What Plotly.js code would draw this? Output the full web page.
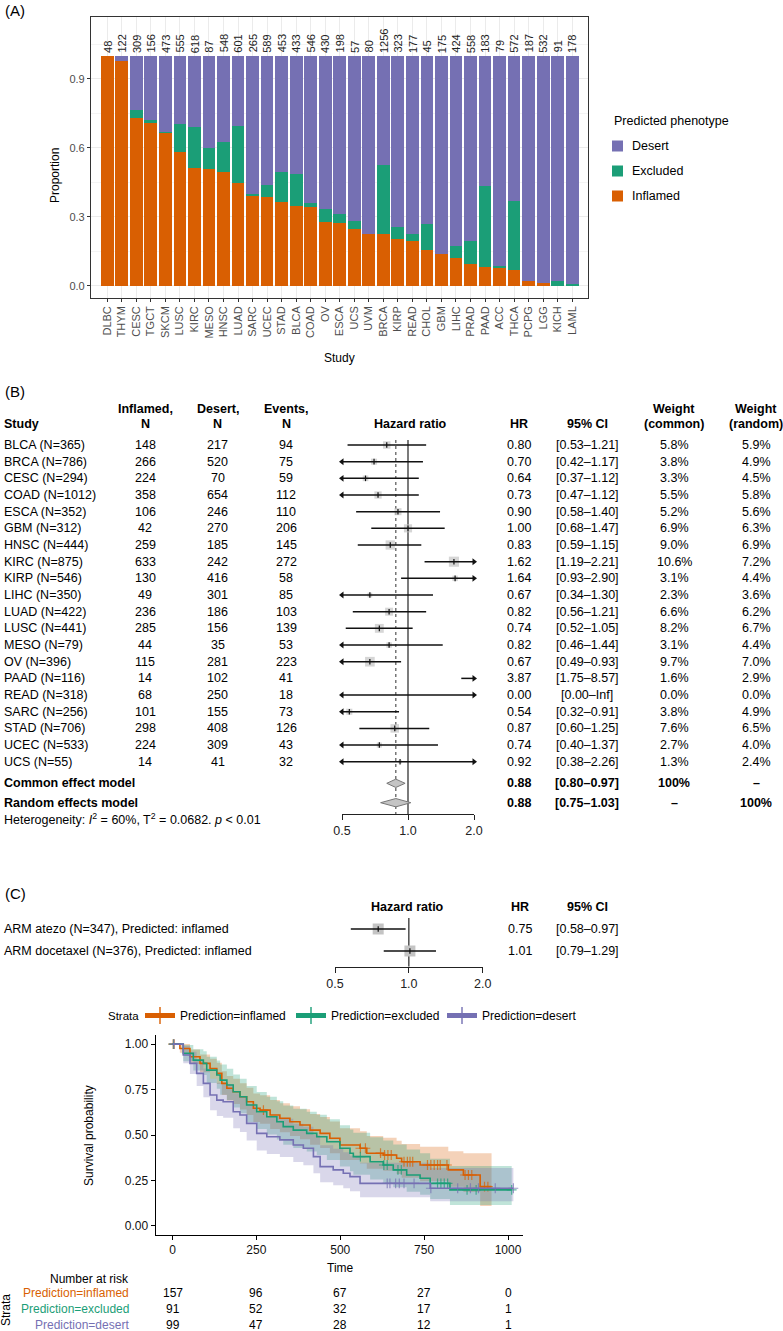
<!DOCTYPE html>
<html><head><meta charset="utf-8">
<script src="https://cdn.plot.ly/plotly-3.0.1.min.js"></script>
<style>html,body{margin:0;padding:0;background:#fff}#chart{width:783px;height:1331px}</style>
</head><body><div id="chart"></div>
<script>
// ---------- Panel A: predicted phenotype proportions ----------
const studiesA = ['DLBC','THYM','CESC','TGCT','SKCM','LUSC','KIRC','MESO','HNSC','LUAD','SARC','UCEC','STAD','BLCA','COAD','OV','ESCA','UCS','UVM','BRCA','KIRP','READ','CHOL','GBM','LIHC','PRAD','PAAD','ACC','THCA','PCPG','LGG','KICH','LAML'];
const countsA = [48,122,309,156,473,555,618,87,548,601,265,589,453,433,546,430,198,57,80,1256,323,177,45,175,424,558,183,79,572,187,532,91,178];
const inflamedA = [1.000,0.975,0.729,0.706,0.662,0.583,0.513,0.506,0.494,0.448,0.388,0.384,0.362,0.346,0.341,0.278,0.271,0.245,0.226,0.223,0.204,0.193,0.157,0.138,0.119,0.094,0.083,0.077,0.068,0.022,0.014,0.000,0.000];
const excludedA = [0.000,0.000,0.035,0.013,0.008,0.120,0.178,0.091,0.131,0.248,0.013,0.055,0.132,0.141,0.017,0.054,0.043,0.035,0.000,0.302,0.053,0.033,0.110,0.000,0.055,0.099,0.349,0.011,0.302,0.000,0.000,0.022,0.009];
const desertA = [0.000,0.025,0.236,0.281,0.330,0.297,0.309,0.403,0.375,0.304,0.599,0.561,0.506,0.513,0.642,0.668,0.686,0.720,0.774,0.475,0.743,0.774,0.733,0.862,0.826,0.807,0.568,0.912,0.630,0.978,0.986,0.978,0.991];
const phenotypeNames = ['Desert','Excluded','Inflamed'];

// ---------- Panel B: meta-analysis ----------
const studiesB = ['BLCA','BRCA','CESC','COAD','ESCA','GBM','HNSC','KIRC','KIRP','LIHC','LUAD','LUSC','MESO','OV','PAAD','READ','SARC','STAD','UCEC','UCS'];
const totalB = [365,786,294,1012,352,312,444,875,546,350,422,441,79,396,116,318,256,706,533,55];
const inflamedB = [148,266,224,358,106,42,259,633,130,49,236,285,44,115,14,68,101,298,224,14];
const desertB = [217,520,70,654,246,270,185,242,416,301,186,156,35,281,102,250,155,408,309,41];
const eventsB = [94,75,59,112,110,206,145,272,58,85,103,139,53,223,41,18,73,126,43,32];
const hrB = [0.80,0.70,0.64,0.73,0.90,1.00,0.83,1.62,1.64,0.67,0.82,0.74,0.82,0.67,3.87,0.00,0.54,0.87,0.74,0.92];
const lowerB = [0.53,0.42,0.37,0.47,0.58,0.68,0.59,1.19,0.93,0.34,0.56,0.52,0.46,0.49,1.75,0.00,0.32,0.60,0.40,0.38];
const upperB = [1.21,1.17,1.12,1.12,1.40,1.47,1.15,2.21,2.90,1.30,1.21,1.05,1.44,0.93,8.57,Infinity,0.91,1.25,1.37,2.26];
const wCommonB = [5.8,3.8,3.3,5.5,5.2,6.9,9.0,10.6,3.1,2.3,6.6,8.2,3.1,9.7,1.6,0.0,3.8,7.6,2.7,1.3];
const wRandomB = [5.9,4.9,4.5,5.8,5.6,6.3,6.9,7.2,4.4,3.6,6.2,6.7,4.4,7.0,2.9,0.0,4.9,6.5,4.0,2.4];
const pooledLabels = ['Common effect model','Random effects model'];
const pooledHR = [0.88,0.88];
const pooledLower = [0.80,0.75];
const pooledUpper = [0.97,1.03];
const pooledWCommon = ['100%','–'];
const pooledWRandom = ['–','100%'];
const forestTicks = [0.5,1,2];
const forestTickText = ['0.5','1.0','2.0'];

// ---------- Panel C: trial forest ----------
const armLabels = ['ARM atezo (N=347), Predicted: inflamed','ARM docetaxel (N=376), Predicted: inflamed'];
const hrC = [0.75,1.01];
const lowerC = [0.58,0.79];
const upperC = [0.97,1.29];

// ---------- Panel C: Kaplan-Meier ----------
const kmNames = ['Prediction=inflamed','Prediction=excluded','Prediction=desert'];
const kmTimeInfl = [0,22,52,82,112,132,147,162,181,201,221,241,261,291,320,350,380,410,440,469,499,559,579,628,668,683,738,822,867,917,951];
const kmSurvInfl = [1.0,0.976,0.93,0.894,0.866,0.839,0.784,0.757,0.738,0.71,0.683,0.647,0.637,0.61,0.592,0.573,0.555,0.527,0.509,0.482,0.445,0.427,0.40,0.39,0.372,0.353,0.335,0.308,0.28,0.216,0.216];
const kmLowInfl = [1.0,0.952,0.89,0.845,0.81,0.78,0.72,0.69,0.67,0.64,0.61,0.572,0.562,0.533,0.515,0.495,0.476,0.447,0.428,0.40,0.362,0.343,0.315,0.304,0.285,0.265,0.246,0.216,0.187,0.11,0.11];
const kmUpInfl = [1.0,1.0,0.97,0.943,0.92,0.898,0.85,0.825,0.81,0.785,0.76,0.728,0.718,0.692,0.675,0.658,0.641,0.615,0.599,0.574,0.537,0.52,0.494,0.485,0.468,0.45,0.435,0.41,0.40,0.40,0.40];
const kmCensInfl = [2,5,271,560,575,620,632,642,652,690,700,708,716,760,770,780,790,798,818,872,882,892,930,940];

const kmTimeExcl = [0,32,62,92,102,132,142,162,181,201,221,251,281,311,330,360,400,430,460,499,529,539,589,628,658,698,738,768,827,1011];
const kmSurvExcl = [1.0,0.949,0.912,0.894,0.857,0.83,0.802,0.775,0.738,0.71,0.665,0.628,0.60,0.573,0.546,0.527,0.509,0.49,0.463,0.427,0.40,0.381,0.353,0.335,0.308,0.28,0.262,0.234,0.198,0.198];
const kmLowExcl = [1.0,0.905,0.855,0.83,0.786,0.755,0.722,0.692,0.651,0.62,0.572,0.533,0.503,0.475,0.447,0.428,0.409,0.39,0.363,0.327,0.30,0.282,0.255,0.238,0.212,0.188,0.172,0.148,0.115,0.115];
const kmUpExcl = [1.0,0.995,0.972,0.96,0.93,0.91,0.888,0.865,0.833,0.81,0.77,0.737,0.71,0.686,0.662,0.645,0.628,0.611,0.586,0.554,0.53,0.513,0.487,0.47,0.448,0.42,0.40,0.37,0.33,0.33];
const kmCensExcl = [3,560,630,640,672,682,790,800,810,820,878,905,1011];

const kmTimeDes = [0,32,52,72,92,112,132,151,181,201,221,251,281,320,360,390,420,440,479,509,529,559,768,1016];
const kmSurvDes = [1.0,0.94,0.894,0.839,0.784,0.72,0.692,0.683,0.628,0.61,0.564,0.509,0.49,0.473,0.445,0.427,0.381,0.326,0.308,0.29,0.271,0.234,0.207,0.207];
const kmLowDes = [1.0,0.895,0.835,0.77,0.707,0.636,0.605,0.595,0.537,0.517,0.47,0.415,0.396,0.379,0.352,0.334,0.29,0.24,0.224,0.207,0.19,0.158,0.135,0.135];
const kmUpDes = [1.0,0.99,0.958,0.912,0.866,0.81,0.787,0.78,0.73,0.714,0.672,0.623,0.605,0.589,0.562,0.546,0.50,0.443,0.424,0.405,0.386,0.347,0.318,0.318];
const kmCensDes = [4,640,648,665,676,690,720,770,850,888,912,962,1016];

const riskTimes = [0,250,500,750,1000];
const riskInfl = [157,96,67,27,0];
const riskExcl = [91,52,32,17,1];
const riskDes = [99,47,28,12,1];

// ---------- helpers ----------
const W = 783, H = 1331;
const px = v => v / W;
const py = v => 1 - v / H;
const FONT = 'Liberation Sans, Arial, sans-serif';
const ORANGE = '#D95F02', GREEN = '#1B9E77', PURPLE = '#7570B3';
const ORANGE_F = 'rgba(217,95,2,0.28)', GREEN_F = 'rgba(27,158,119,0.28)', PURPLE_F = 'rgba(117,112,179,0.28)';

const annotations = [];
const shapes = [];
function txt(text, x, y, opt) {
  opt = opt || {};
  annotations.push(Object.assign({
    text: text, x: px(x), y: py(y), xref: 'paper', yref: 'paper', showarrow: false,
    xanchor: opt.xanchor || 'center', yanchor: 'middle',
    font: {family: FONT, size: opt.size || 12.5, color: opt.color || '#000'}
  }, opt.extra || {}));
}

const traces = [];

// ---------- Panel A traces ----------
traces.push({type: 'bar', x: studiesA, y: inflamedA, name: 'Inflamed', marker: {color: ORANGE, line: {width: 0}},
  xaxis: 'x', yaxis: 'y', showlegend: false, hoverinfo: 'skip'});
traces.push({type: 'bar', x: studiesA, y: excludedA, name: 'Excluded', marker: {color: GREEN, line: {width: 0}},
  xaxis: 'x', yaxis: 'y', showlegend: false, hoverinfo: 'skip'});
traces.push({type: 'bar', x: studiesA, y: desertA, name: 'Desert', marker: {color: PURPLE, line: {width: 0}},
  xaxis: 'x', yaxis: 'y', showlegend: false, hoverinfo: 'skip'});

studiesA.forEach((s, i) => {
  annotations.push({text: String(countsA[i]), x: s, y: 1, xref: 'x', yref: 'y', showarrow: false,
    textangle: -90, xanchor: 'center', yanchor: 'bottom', yshift: 1,
    font: {family: FONT, size: 11, color: '#222'}});
});

// Panel A legend (keys)
txt('Predicted phenotype', 612, 121, {xanchor: 'left', size: 12.5});
const legendColsA = [PURPLE, GREEN, ORANGE];
phenotypeNames.forEach((nm, i) => {
  const yc = 146 + 25 * i;
  shapes.push({type: 'rect', xref: 'paper', yref: 'paper', x0: px(612), x1: px(623), y0: py(yc + 5.5), y1: py(yc - 5.5),
    fillcolor: legendColsA[i], line: {width: 0}});
  txt(nm, 630, yc, {xanchor: 'left', size: 12.5});
});

// ---------- Panel B forest ----------
const rowB = (p) => (p - 445) / 16.67;
const nB = studiesB.length;
const ciX = [], ciY = [], arrLX = [], arrLY = [], arrRX = [], arrRY = [];
const sqX = [], sqY = [], sqS = [];
for (let i = 0; i < nB; i++) {
  const lo = Math.max(lowerB[i], 0.5), hi = Math.min(upperB[i], 2);
  if (hi > lo) { ciX.push(lo, hi, null); ciY.push(i, i, null); }
  if (lowerB[i] < 0.5) { arrLX.push(0.5); arrLY.push(i); }
  if (upperB[i] > 2) { arrRX.push(2); arrRY.push(i); }
  if (hrB[i] >= 0.5 && hrB[i] <= 2 && wCommonB[i] > 0) { sqX.push(hrB[i]); sqY.push(i); sqS.push(3.1 * Math.sqrt(wCommonB[i])); }
}
const rowCommon = rowB(783.3), rowRandom = rowB(802.7);
const rowsPooled = [rowCommon, rowRandom];
const lineTop = rowB(440), lineBottom = rowB(814);
traces.push({x: [1, 1], y: [lineTop, lineBottom], mode: 'lines', line: {color: '#222', width: 1.2},
  xaxis: 'x2', yaxis: 'y2', showlegend: false, hoverinfo: 'skip'});
traces.push({x: [pooledHR[0], pooledHR[0]], y: [lineTop, lineBottom], mode: 'lines', line: {color: '#444', width: 1.1, dash: 'dot'},
  xaxis: 'x2', yaxis: 'y2', showlegend: false, hoverinfo: 'skip'});
traces.push({x: sqX, y: sqY, mode: 'markers', marker: {symbol: 'square', size: sqS, color: '#c4c4c4', line: {width: 0}},
  xaxis: 'x2', yaxis: 'y2', showlegend: false, hoverinfo: 'skip', cliponaxis: false});
traces.push({x: ciX, y: ciY, mode: 'lines', line: {color: '#111', width: 1.5},
  xaxis: 'x2', yaxis: 'y2', showlegend: false, hoverinfo: 'skip', connectgaps: false});
traces.push({x: sqX, y: sqY, mode: 'markers', marker: {symbol: 'line-ns', size: 4, line: {width: 1.2, color: '#111'}},
  xaxis: 'x2', yaxis: 'y2', showlegend: false, hoverinfo: 'skip', cliponaxis: false});
traces.push({x: arrLX, y: arrLY, mode: 'markers', marker: {symbol: 'triangle-left', size: 6, color: '#111'},
  xaxis: 'x2', yaxis: 'y2', showlegend: false, hoverinfo: 'skip', cliponaxis: false});
traces.push({x: arrRX, y: arrRY, mode: 'markers', marker: {symbol: 'triangle-right', size: 6, color: '#111'},
  xaxis: 'x2', yaxis: 'y2', showlegend: false, hoverinfo: 'skip', cliponaxis: false});
for (let k = 0; k < 2; k++) {
  const r = rowsPooled[k], h = 0.25;
  traces.push({x: [pooledLower[k], pooledHR[k], pooledUpper[k], pooledHR[k], pooledLower[k]],
    y: [r, r - h, r, r + h, r], mode: 'lines', fill: 'toself', fillcolor: '#c4c4c4',
    line: {color: '#777', width: 1}, xaxis: 'x2', yaxis: 'y2', showlegend: false, hoverinfo: 'skip'});
}

// Panel B text table
txt('(A)', 3, 10, {xanchor: 'left', size: 15});
txt('(B)', 3, 392, {xanchor: 'left', size: 15});
txt('(C)', 3, 893, {xanchor: 'left', size: 15});
txt('<b>Study</b>', 2, 424, {xanchor: 'left'});
txt('<b>Inflamed,</b>', 145, 409); txt('<b>N</b>', 145, 424);
txt('<b>Desert,</b>', 218, 409); txt('<b>N</b>', 218, 424);
txt('<b>Events,</b>', 286, 409); txt('<b>N</b>', 286, 424);
txt('<b>Hazard ratio</b>', 410, 424);
txt('<b>HR</b>', 519, 424);
txt('<b>95% CI</b>', 587, 424);
txt('<b>Weight</b>', 674, 409); txt('<b>(common)</b>', 674, 424);
txt('<b>Weight</b>', 756, 409); txt('<b>(random)</b>', 756, 424);
const fmtCI = (l, u) => '[' + l.toFixed(2) + '–' + (isFinite(u) ? u.toFixed(2) : 'Inf') + ']';
for (let i = 0; i < nB; i++) {
  const y = 445 + 16.67 * i;
  txt(studiesB[i] + ' (N=' + totalB[i] + ')', 2, y, {xanchor: 'left'});
  txt(String(inflamedB[i]), 145, y);
  txt(String(desertB[i]), 218, y);
  txt(String(eventsB[i]), 286, y);
  txt(hrB[i].toFixed(2), 519, y);
  txt(fmtCI(lowerB[i], upperB[i]), 587, y);
  txt(wCommonB[i].toFixed(1) + '%', 674, y);
  txt(wRandomB[i].toFixed(1) + '%', 756, y);
}
const pooledY = [783.3, 802.7];
for (let k = 0; k < 2; k++) {
  txt('<b>' + pooledLabels[k] + '</b>', 2, pooledY[k], {xanchor: 'left'});
  txt('<b>' + pooledHR[k].toFixed(2) + '</b>', 519, pooledY[k]);
  txt('<b>' + fmtCI(pooledLower[k], pooledUpper[k]) + '</b>', 587, pooledY[k]);
  txt('<b>' + pooledWCommon[k] + '</b>', 674, pooledY[k]);
  txt('<b>' + pooledWRandom[k] + '</b>', 756, pooledY[k]);
}
txt('Heterogeneity: <i>I</i><sup>2</sup> = 60%, T<sup>2</sup> = 0.0682. <i>p</i> < 0.01', 2, 818.5, {xanchor: 'left'});

// ---------- Panel C forest ----------
const rowC = (p) => (p - 929) / 22;
traces.push({x: [1, 1], y: [rowC(918), rowC(966.7)], mode: 'lines', line: {color: '#222', width: 1.2},
  xaxis: 'x3', yaxis: 'y3', showlegend: false, hoverinfo: 'skip'});
traces.push({x: hrC, y: [0, 1], mode: 'markers', marker: {symbol: 'square', size: 11, color: '#c4c4c4'},
  xaxis: 'x3', yaxis: 'y3', showlegend: false, hoverinfo: 'skip', cliponaxis: false});
const ciCX = [], ciCY = [];
hrC.forEach((h, i) => { ciCX.push(lowerC[i], upperC[i], null); ciCY.push(i, i, null); });
traces.push({x: ciCX, y: ciCY, mode: 'lines', line: {color: '#111', width: 1.5},
  xaxis: 'x3', yaxis: 'y3', showlegend: false, hoverinfo: 'skip'});
traces.push({x: hrC, y: [0, 1], mode: 'markers', marker: {symbol: 'line-ns', size: 4, line: {width: 1.2, color: '#111'}},
  xaxis: 'x3', yaxis: 'y3', showlegend: false, hoverinfo: 'skip', cliponaxis: false});
txt('<b>Hazard ratio</b>', 408, 907);
txt('<b>HR</b>', 520, 907);
txt('<b>95% CI</b>', 587, 907);
armLabels.forEach((l, i) => {
  const y = 929 + 22 * i;
  txt(l, 2, y, {xanchor: 'left'});
  txt(hrC[i].toFixed(2), 520, y);
  txt(fmtCI(lowerC[i], upperC[i]), 587, y);
});

// ---------- KM ----------
function stepAt(times, surv, t) {
  let v = surv[0];
  for (let i = 0; i < times.length; i++) { if (times[i] <= t) v = surv[i]; }
  return v;
}
const kmSets = [
  {name: kmNames[0], t: kmTimeInfl, s: kmSurvInfl, lo: kmLowInfl, up: kmUpInfl, c: kmCensInfl, col: ORANGE, fill: ORANGE_F},
  {name: kmNames[1], t: kmTimeExcl, s: kmSurvExcl, lo: kmLowExcl, up: kmUpExcl, c: kmCensExcl, col: GREEN, fill: GREEN_F},
  {name: kmNames[2], t: kmTimeDes, s: kmSurvDes, lo: kmLowDes, up: kmUpDes, c: kmCensDes, col: PURPLE, fill: PURPLE_F}
];
kmSets.forEach(k => {
  traces.push({x: k.t, y: k.lo, mode: 'lines', line: {shape: 'hv', width: 0, color: k.col},
    xaxis: 'x4', yaxis: 'y4', showlegend: false, hoverinfo: 'skip'});
  traces.push({x: k.t, y: k.up, mode: 'lines', line: {shape: 'hv', width: 0, color: k.col}, fill: 'tonexty', fillcolor: k.fill,
    xaxis: 'x4', yaxis: 'y4', showlegend: false, hoverinfo: 'skip'});
});
kmSets.forEach(k => {
  // merge step points and censor points (censor points lie on the step curve)
  const pts = k.t.map((t, i) => ({t: t, s: k.s[i], c: false}));
  k.c.forEach(ct => pts.push({t: ct, s: stepAt(k.t, k.s, ct), c: true}));
  pts.sort((a, b) => a.t - b.t || (a.c - b.c));
  traces.push({x: pts.map(p => p.t), y: pts.map(p => p.s), name: k.name, mode: 'lines+markers',
    line: {shape: 'hv', width: 1.6, color: k.col},
    marker: {symbol: 'cross-thin', size: pts.map(p => p.c ? 7 : 0), color: k.col, line: {width: 1.2, color: k.col}},
    xaxis: 'x4', yaxis: 'y4', legend: 'legend2', hoverinfo: 'skip'});
});

txt('Proportion', 55, 176, {size: 12, extra: {textangle: -90}});
txt('Study', 339, 358, {size: 12});
txt('Strata', 141, 1016, {xanchor: 'right', size: 11.5});
txt('Survival probability', 89, 1136, {size: 12, extra: {textangle: -90}});
txt('Time', 340, 1268, {size: 12});
txt('Number at risk', 131, 1279, {xanchor: 'right', size: 12});
txt('Strata', 6, 1310, {size: 12, extra: {textangle: -90}});
const riskRows = [riskInfl, riskExcl, riskDes];
const riskY = [1292.5, 1309, 1324.5];
const riskCols = [ORANGE, GREEN, PURPLE];
riskRows.forEach((row, r) => {
  txt(kmNames[r], 131, riskY[r], {xanchor: 'right', size: 12, color: riskCols[r]});
  row.forEach((v, j) => {
    annotations.push({text: String(v), x: riskTimes[j], xref: 'x4', y: py(riskY[r]), yref: 'paper', showarrow: false,
      xanchor: 'center', yanchor: 'middle', font: {family: FONT, size: 12, color: '#000'}});
  });
});

const layout = {
  width: W, height: H, margin: {l: 0, r: 0, t: 0, b: 0},
  paper_bgcolor: '#fff', plot_bgcolor: 'rgba(0,0,0,0)',
  font: {family: FONT, size: 12, color: '#000'},
  barmode: 'stack', bargap: 0.12,
  xaxis: {domain: [px(91), px(588.3)], range: [-1.12, 33.11], anchor: 'y', type: 'category',
    showline: true, mirror: true, linecolor: '#333', linewidth: 1.1, ticks: 'outside', ticklen: 3, tickcolor: '#333',
    tickangle: -90, tickfont: {size: 11, color: '#4d4d4d'}, showgrid: true, gridcolor: '#ebebeb', zeroline: false, fixedrange: true},
  yaxis: {domain: [py(297.7), py(17.3)], range: [-0.052, 1.167], anchor: 'x',
    tickvals: [0, 0.3, 0.6, 0.9], ticktext: ['0.0', '0.3', '0.6', '0.9'],
    showline: true, mirror: true, linecolor: '#333', linewidth: 1.1, ticks: 'outside', ticklen: 3, tickcolor: '#333',
    tickfont: {size: 11, color: '#4d4d4d'}, showgrid: true, gridcolor: '#ebebeb', zeroline: false,
    minor: {tickvals: [0.15, 0.45, 0.75, 1.05], showgrid: true, gridcolor: '#f4f4f4', ticks: ''}},
  xaxis2: {type: 'log', domain: [px(342), px(474)], range: [Math.log10(0.5), Math.log10(2)], anchor: 'y2',
    showline: true, linecolor: '#222', linewidth: 1.1, ticks: 'outside', ticklen: 5, tickcolor: '#222',
    tickvals: forestTicks, ticktext: forestTickText, tickfont: {size: 12.5, color: '#222'}, showgrid: false, zeroline: false},
  yaxis2: {domain: [py(814), py(432)], range: [rowB(814), rowB(432)], anchor: 'x2', visible: false},
  xaxis3: {type: 'log', domain: [px(335), px(482.7)], range: [Math.log10(0.5), Math.log10(2)], anchor: 'y3',
    showline: true, linecolor: '#222', linewidth: 1.1, ticks: 'outside', ticklen: 5, tickcolor: '#222',
    tickvals: forestTicks, ticktext: forestTickText, tickfont: {size: 12.5, color: '#222'}, showgrid: false, zeroline: false},
  yaxis3: {domain: [py(966.7), py(916)], range: [rowC(966.7), rowC(916)], anchor: 'x3', visible: false},
  xaxis4: {domain: [px(155.5), px(523)], range: [-50.7, 1044.7], anchor: 'y4',
    showline: true, linecolor: '#000', linewidth: 1, ticks: 'outside', ticklen: 4, tickcolor: '#000',
    tickvals: riskTimes, tickfont: {size: 12, color: '#111'}, showgrid: false, zeroline: false},
  yaxis4: {domain: [py(1235), py(1035)], range: [-0.05, 1.05], anchor: 'x4',
    showline: true, linecolor: '#000', linewidth: 1, ticks: 'outside', ticklen: 4, tickcolor: '#000',
    tickvals: [0, 0.25, 0.5, 0.75, 1], ticktext: ['0.00', '0.25', '0.50', '0.75', '1.00'],
    tickfont: {size: 12, color: '#111'}, showgrid: false, zeroline: false},
  legend2: {orientation: 'h', x: px(140), y: py(1001), xanchor: 'left', yanchor: 'top', itemsizing: 'constant',
    font: {size: 12}, itemwidth: 30, entrywidth: 106, bgcolor: 'rgba(0,0,0,0)'},
  annotations: annotations,
  shapes: shapes,
  showlegend: true
};

Plotly.newPlot('chart', traces, layout, {staticPlot: true, displayModeBar: false});
</script>
</body></html>
